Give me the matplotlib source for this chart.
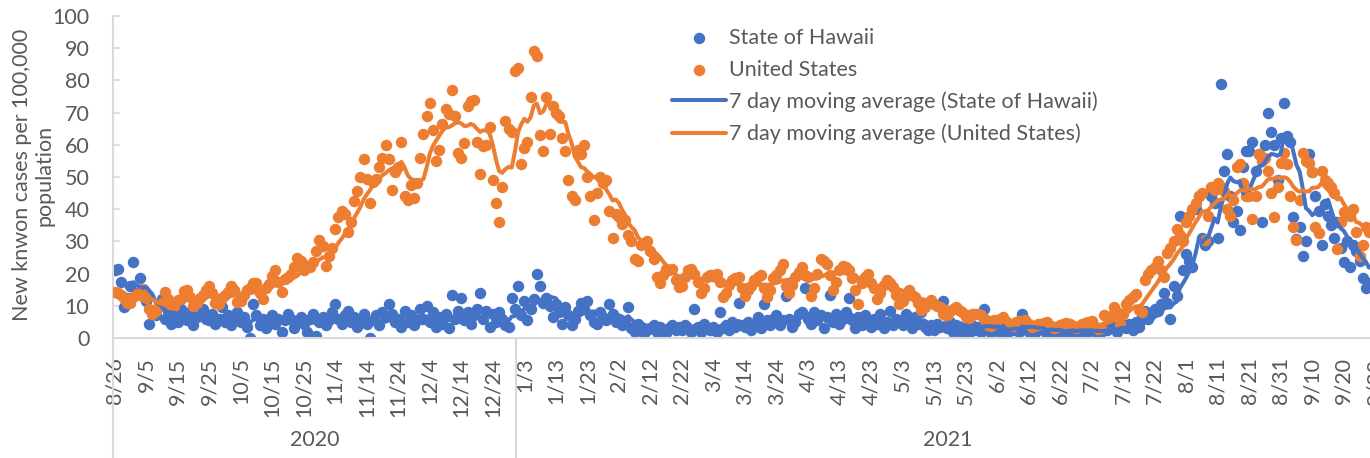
import matplotlib
matplotlib.use('Agg')
from matplotlib import pyplot as plt
import pandas as pd

plt.rcParams['font.family'] = ['Lato', 'DejaVu Sans']

# daily new known cases per 100,000 population, 8/26/2020 .. 9/28/2021 (rows = 10 days)
hawaii = [
    21.0, 21.5, 17.5, 9.5, 12.5, 16.0, 23.5, 14.0, 18.5, 15.0,
    11.5, 4.5, 8.0, 7.0, 10.0, 12.0, 6.0, 8.5, 4.5, 6.5,
    5.0, 9.0, 7.5, 5.5, 8.0, 4.0, 6.5, 7.0, 9.0, 6.0,
    5.5, 7.5, 4.5, 6.0, 9.5, 5.0, 7.0, 4.0, 6.5, 8.0,
    5.0, 6.5, 3.5, 0.0, 10.5, 7.0, 4.0, 6.0, 3.0, 5.5,
    7.0, 4.5, 6.0, 2.0, 5.5, 7.5, 6.0, 3.0, 5.0, 6.5,
    4.5, 2.0, 6.0, 7.5, 0.5, 5.0, 6.5, 4.0, 5.5, 8.0,
    10.5, 6.0, 4.5, 7.0, 8.5, 5.0, 6.5, 3.5, 6.0, 7.5,
    4.5, 0.0, 5.5, 7.0, 4.0, 8.0, 6.5, 10.5, 7.5, 5.0,
    6.0, 3.5, 8.5, 5.0, 7.0, 4.0, 5.5, 9.0, 6.0, 10.0,
    5.0, 8.0, 3.5, 6.5, 4.5, 7.5, 3.0, 13.5, 6.0, 8.5,
    12.5, 5.5, 8.0, 4.5, 7.0, 9.0, 14.0, 6.0, 8.5, 3.5,
    7.5, 5.0, 8.0, 6.0, 4.0, 3.5, 12.5, 9.0, 16.0, 7.0,
    11.5, 5.5, 9.0, 12.0, 20.0, 16.0, 11.0, 12.5, 10.0, 6.5,
    10.5, 8.0, 4.5, 9.5, 7.0, 4.0, 6.0, 8.5, 11.0, 9.0,
    11.5, 7.0, 5.0, 4.5, 8.0, 6.5, 5.5, 10.5, 7.5, 5.0,
    6.0, 4.0, 5.0, 9.5, 3.0, 2.0, 4.5, 3.5, 1.5, 2.5,
    3.0, 4.0, 2.0, 3.5, 0.5, 1.5, 3.0, 4.0, 2.5, 3.5,
    2.5, 4.0, 3.0, 2.0, 9.0, 3.5, 2.0, 4.5, 3.0, 2.5,
    3.5, 2.0, 8.0, 3.0, 4.0, 2.5, 5.0, 3.5, 11.0, 4.0,
    3.5, 5.0, 2.5, 4.0, 6.5, 3.0, 10.5, 5.5, 4.0, 6.0,
    7.0, 4.0, 5.5, 13.0, 6.0, 3.5, 5.0, 7.5, 8.0, 15.5,
    6.0, 4.5, 8.0, 5.5, 7.0, 3.0, 6.5, 13.5, 5.0, 7.5,
    4.5, 6.0, 8.0, 12.5, 5.5, 3.0, 6.5, 4.0, 7.0, 5.0,
    3.5, 6.0, 4.5, 7.5, 3.0, 5.0, 8.5, 4.0, 6.0, 5.5,
    4.0, 7.5, 5.0, 3.0, 6.5, 4.5, 8.0, 3.5, 2.5, 4.0,
    2.5, 4.5, 3.5, 11.5, 3.0, 5.0, 2.0, 4.0, 3.5, 1.5,
    3.0, 1.5, 4.0, 2.5, 3.5, 2.0, 9.0, 3.0, 1.5, 2.5,
    3.5, 2.0, 4.5, 1.5, 3.0, 2.5, 4.0, 2.0, 7.5, 3.0,
    2.0, 3.5, 1.5, 2.5, 4.0, 3.0, 1.0, 2.5, 3.5, 0.8,
    2.5, 1.5, 3.0, 2.0, 3.5, 1.0, 2.5, 3.0, 1.5, 2.0,
    3.0, 2.5, 1.0, 2.0, 3.5, 2.5, 4.0, 3.0, 2.0, 3.5,
    4.0, 3.0, 4.5, 2.5, 5.0, 3.5, 6.5, 8.5, 6.0, 7.5,
    9.0, 8.5, 10.5, 14.0, 11.0, 6.0, 16.0, 13.0, 38.0, 21.0,
    26.0, 24.0, 22.0, 40.0, 44.0, 31.0, 29.0, 30.0, 44.0, 42.0,
    31.0, 79.0, 52.0, 57.0, 44.0, 36.0, 39.5, 33.5, 53.0, 58.0,
    58.0, 61.0, 52.0, 57.0, 36.0, 60.0, 70.0, 64.0, 60.0, 49.0,
    62.0, 73.0, 62.8, 61.0, 37.7, 30.8, 34.5, 25.5, 30.0, 57.0,
    51.5, 44.0, 39.5, 29.0, 41.5, 38.0, 35.0, 31.0, 36.0, 28.0,
    23.5, 30.0, 22.0, 29.0, 27.0, 24.0, 18.5, 15.5, 17.0,
]

us = [
    14.3, 14.0, 13.2, 12.4, 10.8, 11.0, 12.6, 13.8, 13.2, 15.2,
    12.4, 9.0, 7.6, 8.4, 10.2, 10.8, 14.2, 12.0, 10.4, 10.0,
    11.8, 12.0, 14.5, 15.0, 12.8, 9.8, 11.0, 12.5, 13.4, 14.8,
    16.0, 14.0, 10.8, 10.5, 12.5, 13.2, 14.2, 16.2, 15.0, 11.2,
    11.5, 13.5, 15.0, 15.6, 17.2, 17.0, 14.0, 12.0, 15.5, 16.8,
    19.2, 21.0, 17.5, 14.2, 18.2, 18.8, 19.8, 22.0, 25.0, 24.0,
    21.0, 22.5, 22.0, 23.5, 27.0, 30.5, 28.5, 22.5, 25.5, 28.0,
    34.0, 37.5, 39.5, 38.5, 33.0, 36.0, 42.5, 45.5, 50.0, 55.5,
    49.5, 42.0, 48.5, 49.5, 53.0, 56.0, 60.0, 55.5, 46.0, 51.5,
    53.0, 61.0, 44.0, 43.0, 47.5, 43.5, 48.0, 56.0, 63.5, 69.0,
    73.0, 64.5, 55.0, 58.5, 66.5, 71.0, 69.5, 77.0, 69.0, 57.5,
    56.0, 60.5, 72.0, 73.5, 74.0, 61.0, 51.0, 59.5, 60.0, 65.5,
    49.0, 42.0, 36.0, 47.0, 67.5, 65.0, 64.0, 83.0, 84.0, 54.0,
    59.0, 61.0, 75.0, 89.0, 87.5, 63.0, 58.0, 75.0, 63.5, 72.0,
    70.0, 69.0, 62.0, 58.0, 49.0, 44.0, 43.0, 58.5, 57.0, 60.0,
    50.0, 44.0, 36.5, 45.0, 50.0, 48.0, 49.0, 39.5, 31.0, 38.5,
    37.5, 35.5, 36.5, 32.0, 30.0, 24.5, 24.0, 29.0, 29.5, 30.0,
    27.0, 24.5, 19.0, 17.0, 19.5, 21.5, 21.0, 21.5, 18.0, 15.8,
    16.0, 19.0, 21.0, 21.5, 20.0, 17.5, 14.0, 15.5, 19.0, 19.5,
    19.5, 20.0, 17.5, 12.7, 14.0, 16.5, 18.0, 18.5, 19.0, 15.5,
    13.0, 15.0, 16.0, 18.0, 19.0, 19.5, 15.5, 12.7, 15.0, 18.5,
    19.5, 21.0, 23.0, 16.0, 14.0, 16.5, 19.0, 20.5, 22.0, 19.5,
    19.0, 13.0, 15.5, 20.0, 24.5, 24.0, 23.0, 19.5, 14.8, 17.5,
    21.0, 22.5, 22.0, 21.0, 18.5, 14.8, 10.7, 17.0, 19.0, 20.0,
    17.0, 15.5, 12.2, 14.0, 16.5, 18.0, 17.0, 15.8, 13.5, 10.7,
    11.5, 13.0, 14.8, 13.5, 12.7, 11.0, 8.6, 9.5, 11.0, 11.7,
    10.7, 10.0, 9.6, 7.6, 6.8, 8.5, 9.0, 9.6, 8.6, 8.0,
    6.5, 6.2, 7.4, 7.6, 7.5, 7.0, 6.0, 4.0, 3.8, 5.5,
    5.5, 6.0, 6.5, 5.0, 3.9, 3.8, 5.0, 5.2, 5.0, 5.5,
    4.5, 3.5, 3.6, 4.3, 4.2, 4.6, 5.0, 3.8, 3.0, 3.4,
    4.0, 4.2, 4.8, 4.5, 3.6, 3.2, 3.8, 4.3, 4.6, 5.0,
    5.2, 3.5, 2.8, 3.2, 7.0, 6.5, 6.8, 9.6, 8.0, 4.5,
    7.5, 10.5, 11.7, 12.7, 13.8, 8.6, 8.0, 18.0, 20.0, 21.0,
    22.0, 24.0, 21.0, 19.0, 26.5, 28.0, 30.0, 34.0, 32.0, 30.0,
    36.0, 38.0, 40.0, 42.0, 44.0, 45.0, 30.5, 38.0, 47.0, 46.0,
    48.0, 47.0, 45.5, 40.0, 38.0, 43.0, 53.0, 54.0, 48.0, 44.0,
    44.0, 37.0, 44.0, 57.0, 55.0, 56.0, 52.0, 45.0, 37.5, 47.0,
    54.5, 57.5, 54.0, 44.0, 34.5, 30.5, 43.0, 57.5, 55.0, 54.5,
    51.5, 34.5, 32.5, 52.0, 49.0, 48.0, 47.0, 45.0, 27.5, 36.0,
    39.0, 38.5, 38.0, 40.0, 33.0, 25.5, 29.0, 34.5, 33.0,
]

tick_labels = ['8/26', '9/5', '9/15', '9/25', '10/5', '10/15', '10/25', '11/4',
               '11/14', '11/24', '12/4', '12/14', '12/24', '1/3', '1/13', '1/23',
               '2/2', '2/12', '2/22', '3/4', '3/14', '3/24', '4/3', '4/13', '4/23',
               '5/3', '5/13', '5/23', '6/2', '6/12', '6/22', '7/2', '7/12', '7/22',
               '8/1', '8/11', '8/21', '8/31', '9/10', '9/20', '9/30']
years = ['2020', '2021']
days_2020 = 128   # 8/26 .. 12/31

blue = '#4472C4'
orange = '#ED7D31'
grey = '#595959'
axis_grey = '#D9D9D9'
fs = 15.5

W, H = 1370, 458
fig = plt.figure(figsize=(W / 100, H / 100), dpi=100)
x0, x1, y0, y1 = 113, 1380, 338, 16
ax = fig.add_axes([x0 / W, (H - y0) / H, (x1 - x0) / W, (y0 - y1) / H])

x = list(range(len(hawaii)))
hi = ax.scatter(x, hawaii, s=68, color=blue, linewidths=0, zorder=2)
usp = ax.scatter(x, us, s=68, color=orange, linewidths=0, zorder=3)
hi_ma = pd.Series(hawaii).rolling(7).mean()
us_ma = pd.Series(us).rolling(7).mean()
l1, = ax.plot(x, hi_ma, color=blue, lw=2.9, zorder=4, solid_capstyle='round')
l2, = ax.plot(x, us_ma, color=orange, lw=2.9, zorder=5, solid_capstyle='round')

ax.set_ylim(0, 100)
ax.set_yticks(range(0, 101, 10))
ax.set_xlim(-0.5, 401.5)
ax.set_xticks(range(0, 10 * len(tick_labels), 10))
ax.set_xticklabels(tick_labels, rotation=90, va='top', ha='center')
ax.tick_params(axis='x', length=0, pad=14, labelsize=fs, labelcolor=grey)
ax.tick_params(axis='y', direction='in', length=5, width=1.2, color=axis_grey,
               pad=17, labelsize=fs, labelcolor=grey)

for s in ['top', 'right']:
    ax.spines[s].set_visible(False)
for s in ['left', 'bottom']:
    ax.spines[s].set_color(axis_grey)
    ax.spines[s].set_linewidth(1.5)

# year group lines and labels under the axis
trans = ax.get_xaxis_transform()
depth = (H - y0) / (y0 - y1)
for xv in [-0.5, days_2020 - 0.5]:
    ax.plot([xv, xv], [0, -depth], transform=trans, color=axis_grey, lw=1.5, clip_on=False)
ax.text((days_2020 - 1) / 2, -0.317, years[0], transform=trans, ha='center', va='center',
        fontsize=fs, color=grey)
ax.text((days_2020 + 401) / 2, -0.317, years[1], transform=trans, ha='center', va='center',
        fontsize=fs, color=grey)

fig.text(33 / W, 1 - 175 / H, 'New knwon cases per 100,000\npopulation', rotation=90,
         ha='center', va='center', fontsize=fs, color=grey, multialignment='center',
         linespacing=1.15)

plt.legend((hi, usp, l1, l2),
           ('State of Hawaii', 'United States', '7 day moving average (State of Hawaii)',
            '7 day moving average (United States)'),
           scatterpoints=1,
           loc='upper left',
           bbox_to_anchor=(672 / W, (H - 28) / H),
           bbox_transform=fig.transFigure,
           frameon=False,
           fontsize=fs,
           labelcolor=grey,
           handlelength=2.5,
           handletextpad=0.14,
           labelspacing=0.54,
           borderpad=0,
           borderaxespad=0)

fig.savefig('out.png', dpi=100)
